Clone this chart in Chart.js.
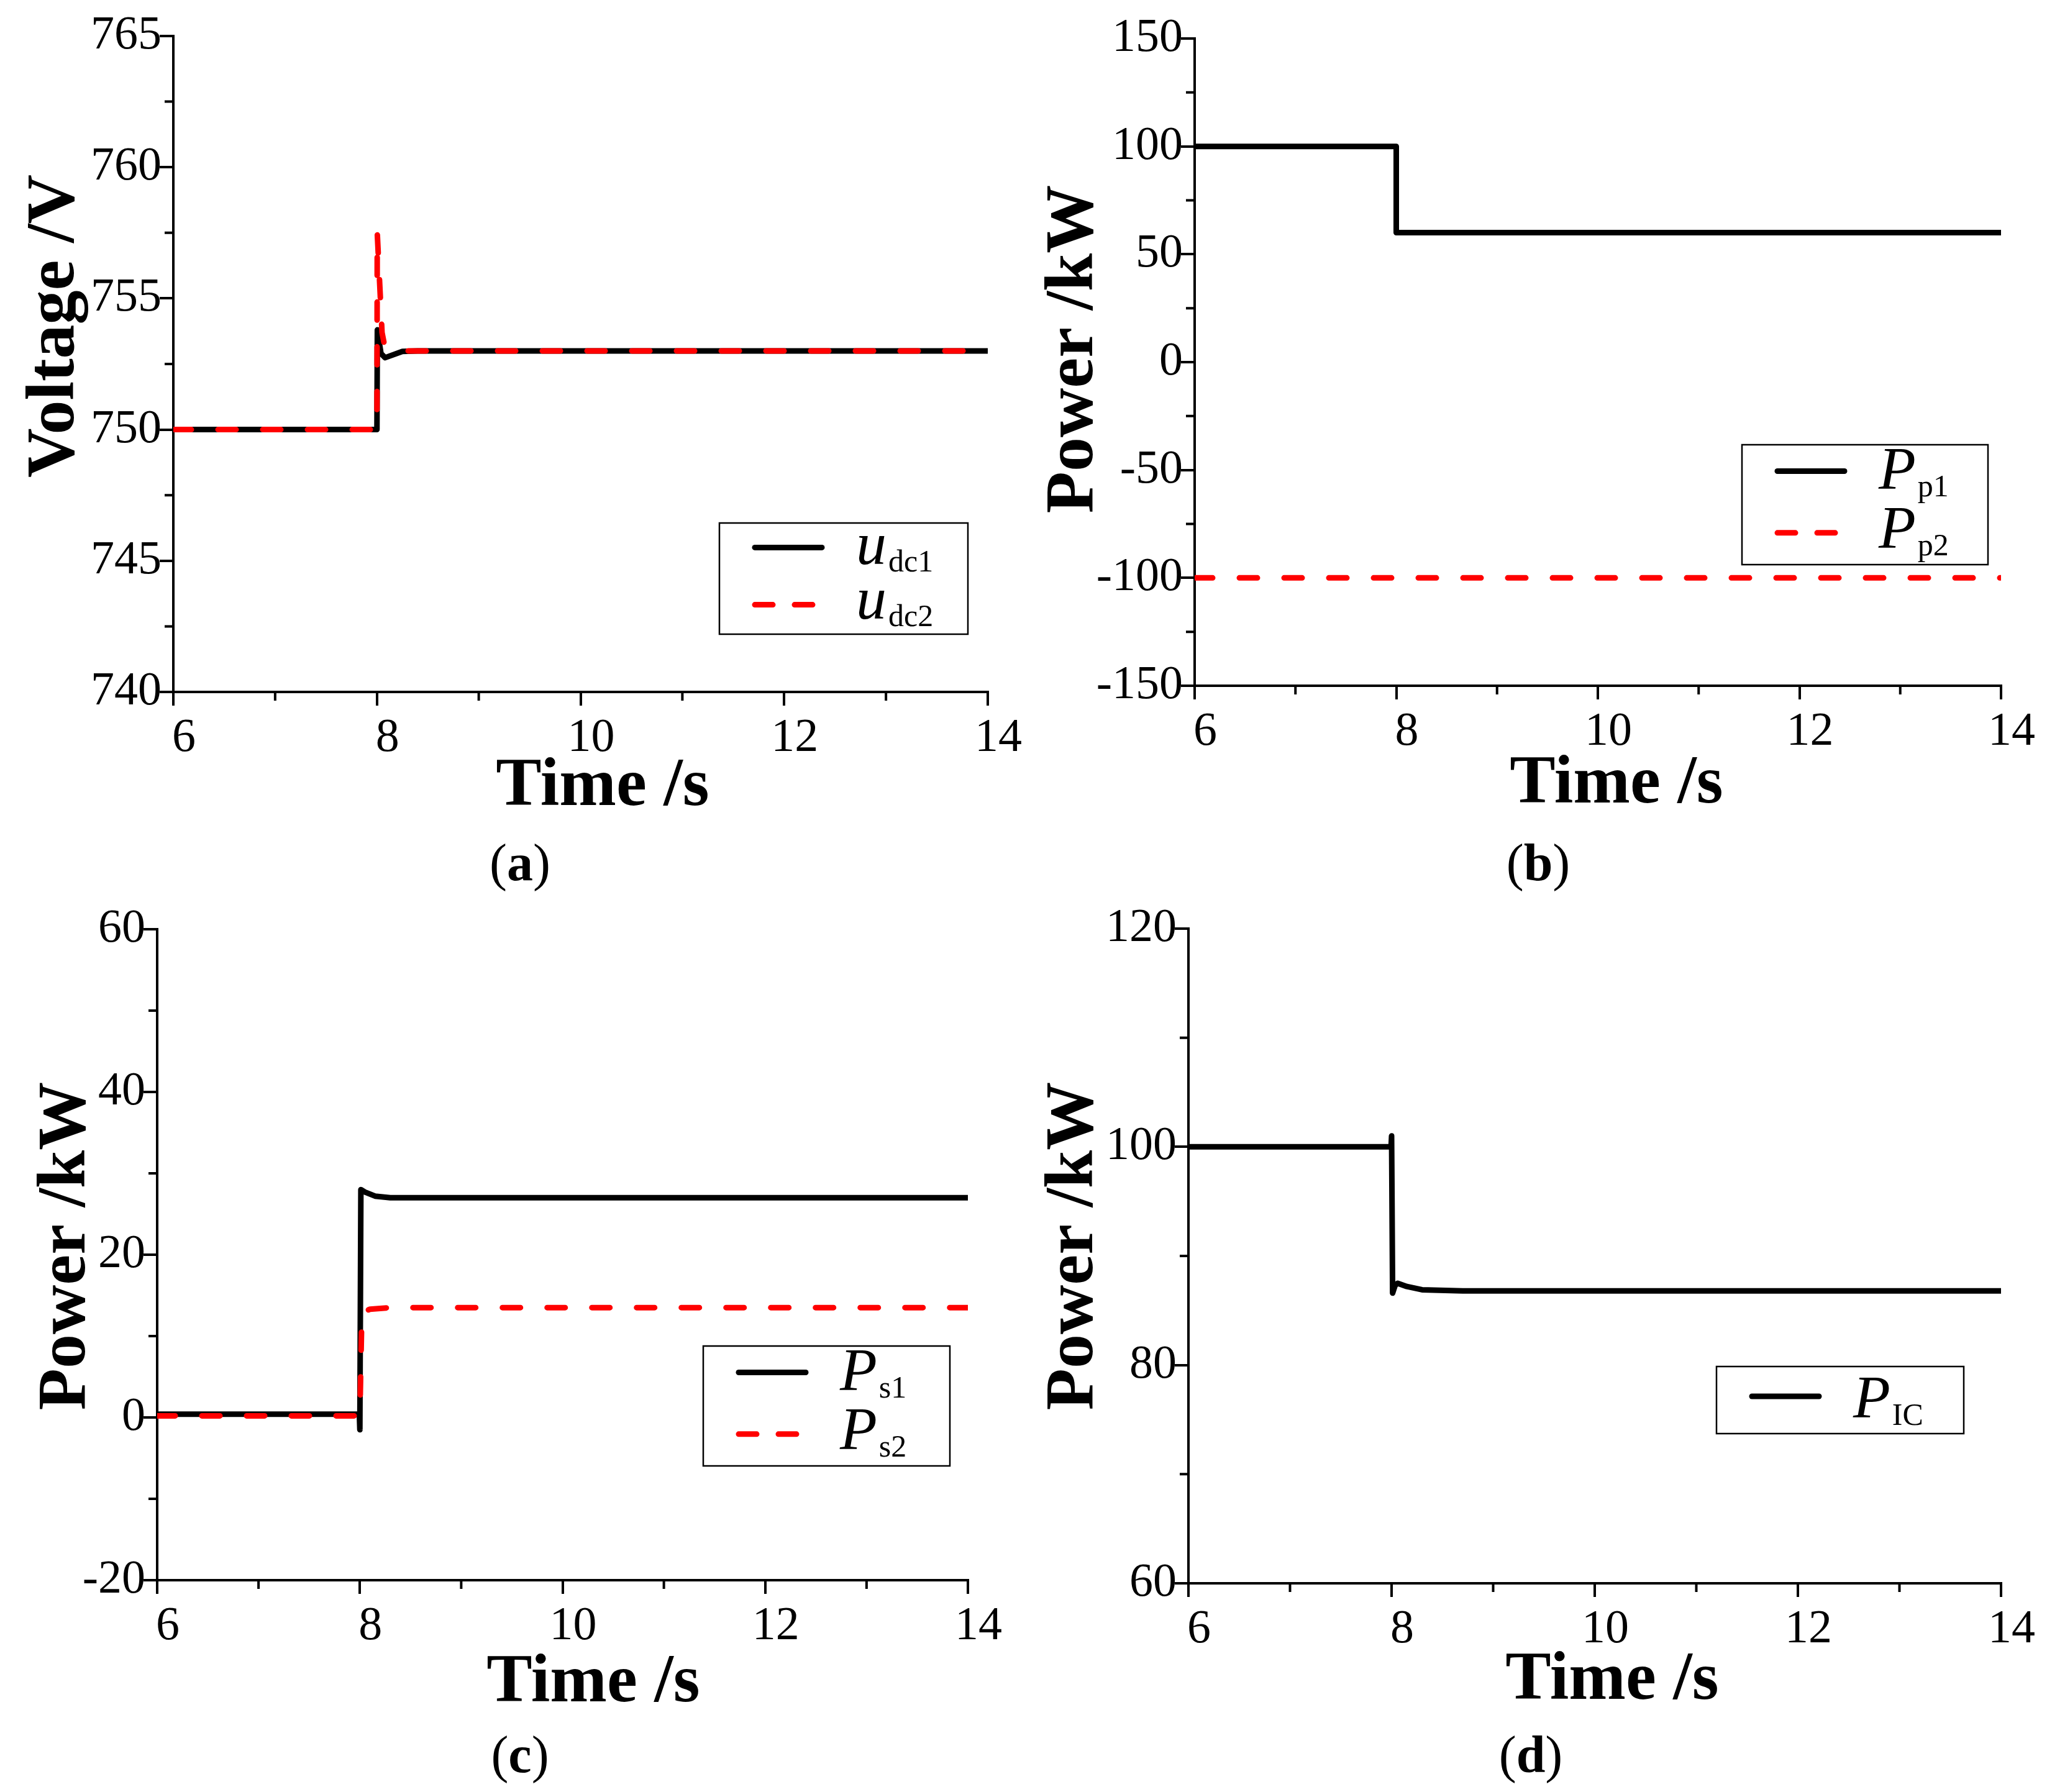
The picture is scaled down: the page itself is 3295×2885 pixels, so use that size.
<!DOCTYPE html>
<html>
<head>
<meta charset="utf-8">
<script src="https://cdn.jsdelivr.net/npm/chart.js@4.4.1/dist/chart.umd.min.js"></script>
<style>
  html, body { margin: 0; padding: 0; background: #fff; }
  #page { position: relative; width: 3295px; height: 2885px; background: #fff; }
  #page canvas { position: absolute; }
</style>
</head>
<body>
<div id="page">
  <canvas id="panel-a"></canvas>
  <canvas id="panel-b"></canvas>
  <canvas id="panel-c"></canvas>
  <canvas id="panel-d"></canvas>
</div>
<script>
// tick values
const timeTicks = [6, 8, 10, 12, 14];
const timeMinorTicks = [7, 9, 11, 13];
const voltageTicks = [740, 745, 750, 755, 760, 765];
const voltageMinorTicks = [742.5, 747.5, 752.5, 757.5, 762.5];
const powerPTicks = [-150, -100, -50, 0, 50, 100, 150];
const powerPMinorTicks = [-125, -75, -25, 25, 75, 125];
const powerSTicks = [-20, 0, 20, 40, 60];
const powerSMinorTicks = [-10, 10, 30, 50];
const powerICTicks = [60, 80, 100, 120];
const powerICMinorTicks = [70, 90, 110];

// (a) DC voltages
const udc1Time  = [6, 8.0, 8.004, 8.04, 8.08, 8.25, 8.4, 14];
const udc1Value = [750, 750, 753.8, 752.9, 752.74, 752.98, 753.0, 753.0];
const udc2Time  = [6, 8.0, 8.003, 8.05, 8.07, 8.24, 14];
const udc2Value = [750, 750, 757.5, 753.7, 753.3, 753.0, 753.0];

// (b) primary power
const pp1Time  = [6, 8, 8, 14];
const pp1Value = [100, 100, 60, 60];
const pp2Time  = [6, 14];
const pp2Value = [-100, -100];

// (c) secondary power
const ps1Time  = [6, 7.995, 8.0, 8.01, 8.05, 8.15, 8.3, 14];
const ps1Value = [0.4, 0.4, -1.5, 28.0, 27.7, 27.2, 27.0, 27.0];
const ps2Time  = [6, 8.0, 8.02, 8.1, 8.3, 14];
const ps2Value = [0.2, 0.2, 12.9, 13.3, 13.5, 13.5];

// (d) interlinking converter power
const picTime  = [6, 7.995, 8.0, 8.01, 8.035, 8.06, 8.15, 8.3, 8.7, 14];
const picValue = [100, 100, 101.0, 86.6, 87.3, 87.5, 87.2, 86.9, 86.8, 86.8];

const BLACK = '#000000';
const RED = '#ff0000';
const SERIF = "'Liberation Serif', 'Times New Roman', serif";
const LINE_W = 9;
const DASH = [29, 43];

Chart.defaults.font.family = SERIF;
Chart.defaults.color = '#000';

function points(ts, vs) {
    return ts.map((t, i) => ({ x: t, y: vs[i] }));
}

function lineSet(label, ts, vs, color, dashed) {
    return {
        label: label,
        data: points(ts, vs),
        borderColor: color,
        borderWidth: LINE_W,
        borderDash: dashed ? DASH : [],
        borderCapStyle: 'round',
        borderJoinStyle: 'round',
        pointRadius: 0,
        tension: 0,
        fill: false
    };
}

const extras = {};

/** draws minor ticks, legend box, axis titles and the (x) tag */
const figureExtras = {
    id: 'figureExtras',
    afterDraw(chart) {
        const spec = extras[chart.canvas.id];
        if (!spec) return;
        const ctx = chart.ctx;
        const [ox, oy] = spec.origin;
        const xs = chart.scales.x, ys = chart.scales.y;
        const area = chart.chartArea;

        ctx.save();
        ctx.strokeStyle = BLACK;
        ctx.lineWidth = 4;
        ctx.beginPath();
        timeMinorTicks.forEach(v => {
            const px = xs.getPixelForValue(v);
            ctx.moveTo(px, area.bottom + 2);
            ctx.lineTo(px, area.bottom + 14);
        });
        spec.yMinor.forEach(v => {
            const py = ys.getPixelForValue(v);
            ctx.moveTo(area.left - 2, py);
            ctx.lineTo(area.left - 14, py);
        });
        ctx.stroke();

        // legend
        const lg = spec.legend;
        const L = lg.box[0] - ox, T = lg.box[1] - oy, R = lg.box[2] - ox, B = lg.box[3] - oy;
        const H = B - T;
        ctx.lineWidth = 2.5;
        ctx.strokeRect(L, T, R - L, H);
        const n = lg.items.length;
        lg.items.forEach((item, i) => {
            const lineY = n === 1 ? T + 0.444 * H : T + (i === 0 ? 0.22 : 0.735) * H;
            const baseY = n === 1 ? T + 0.76 * H : T + (i === 0 ? 0.37 : 0.86) * H;
            ctx.save();
            ctx.strokeStyle = item.color;
            ctx.lineWidth = LINE_W;
            ctx.lineCap = 'round';
            ctx.setLineDash(item.dashed ? [29, 35] : []);
            ctx.beginPath();
            ctx.moveTo(L + 57, lineY);
            ctx.lineTo(L + 165, lineY);
            ctx.stroke();
            ctx.restore();

            ctx.fillStyle = BLACK;
            ctx.textAlign = 'left';
            ctx.textBaseline = 'alphabetic';
            ctx.font = 'italic 98px ' + SERIF;
            ctx.fillText(item.main, L + 220, baseY);
            const w = ctx.measureText(item.main).width;
            ctx.font = '50px ' + SERIF;
            ctx.fillText(item.sub, L + 220 + w + 3, baseY + 12);
        });

        // axis titles
        ctx.fillStyle = BLACK;
        ctx.font = 'bold 110px ' + SERIF;
        ctx.textAlign = 'center';
        ctx.textBaseline = 'alphabetic';
        ctx.fillText(spec.xTitle.text, spec.xTitle.x - ox, spec.xTitle.y - oy);
        ctx.save();
        ctx.translate(spec.yTitle.x - ox, spec.yTitle.y - oy);
        ctx.rotate(-Math.PI / 2);
        ctx.fillText(spec.yTitle.text, 0, 0);
        ctx.restore();

        // panel tag like (a)
        const tag = spec.tag;
        ctx.textAlign = 'left';
        ctx.font = '84px ' + SERIF;
        const wp1 = ctx.measureText('(').width;
        const wp2 = ctx.measureText(')').width;
        ctx.font = 'bold 84px ' + SERIF;
        const wl = ctx.measureText(tag.letter).width;
        let x = tag.x - ox - (wp1 + wl + wp2) / 2;
        const y = tag.y - oy;
        ctx.font = '84px ' + SERIF;
        ctx.fillText('(', x, y);
        x += wp1;
        ctx.font = 'bold 84px ' + SERIF;
        ctx.fillText(tag.letter, x, y);
        x += wl;
        ctx.font = '84px ' + SERIF;
        ctx.fillText(')', x, y);
        ctx.restore();
    }
};

function makePanel(id, spec) {
    const canvas = document.getElementById(id);
    const [ox, oy] = spec.origin;
    const [w, h] = spec.size;
    const [L, T, R, B] = spec.area;
    canvas.width = w;
    canvas.height = h;
    canvas.style.left = ox + 'px';
    canvas.style.top = oy + 'px';
    canvas.style.width = w + 'px';
    canvas.style.height = h + 'px';
    extras[id] = spec;

    const axisGrid = {
        drawOnChartArea: false, drawTicks: true, tickLength: 22,
        tickWidth: 4, tickColor: BLACK, lineWidth: 4, color: BLACK
    };
    const axisBorder = { display: true, color: BLACK, width: 4 };

    return new Chart(canvas, {
        type: 'line',
        data: { datasets: spec.datasets },
        options: {
            responsive: false,
            animation: false,
            devicePixelRatio: 1,
            layout: { padding: { left: 0, top: T - oy, right: ox + w - R, bottom: 0 } },
            plugins: {
                legend: { display: false },
                tooltip: { enabled: false },
                title: { display: false }
            },
            scales: {
                x: {
                    type: 'linear',
                    min: timeTicks[0],
                    max: timeTicks[timeTicks.length - 1],
                    afterBuildTicks: s => { s.ticks = timeTicks.map(v => ({ value: v })); },
                    afterFit: s => { s.height = oy + h - B; },
                    ticks: {
                        autoSkip: false, maxRotation: 0, minRotation: 0,
                        padding: 7, labelOffset: 17, color: BLACK,
                        font: { size: 76 },
                        callback: v => String(v)
                    },
                    grid: axisGrid,
                    border: axisBorder
                },
                y: {
                    type: 'linear',
                    min: spec.yTicks[0],
                    max: spec.yTicks[spec.yTicks.length - 1],
                    afterBuildTicks: s => { s.ticks = spec.yTicks.map(v => ({ value: v })); },
                    afterFit: s => { s.width = L - ox; },
                    ticks: {
                        autoSkip: false, padding: -3, color: BLACK,
                        font: { size: 76 },
                        callback: v => String(v)
                    },
                    grid: axisGrid,
                    border: axisBorder
                }
            }
        },
        plugins: [figureExtras]
    });
}

makePanel('panel-a', {
    origin: [0, 0], size: [1647, 1442], area: [279, 58, 1590, 1114],
    yTicks: voltageTicks, yMinor: voltageMinorTicks,
    datasets: [
        lineSet('udc2', udc2Time, udc2Value, RED, true),
        lineSet('udc1', udc1Time, udc1Value, BLACK, false)
    ],
    legend: {
        box: [1158, 842, 1558, 1021],
        items: [
            { main: 'u', sub: 'dc1', color: BLACK, dashed: false },
            { main: 'u', sub: 'dc2', color: RED, dashed: true }
        ]
    },
    yTitle: { text: 'Voltage /V', x: 118, y: 525 },
    xTitle: { text: 'Time /s', x: 970, y: 1296 },
    tag: { letter: 'a', x: 837, y: 1417 }
});

makePanel('panel-b', {
    origin: [1648, 0], size: [1647, 1442], area: [1923, 62, 3221, 1104],
    yTicks: powerPTicks, yMinor: powerPMinorTicks,
    datasets: [
        lineSet('Pp2', pp2Time, pp2Value, RED, true),
        lineSet('Pp1', pp1Time, pp1Value, BLACK, false)
    ],
    legend: {
        box: [2804, 716, 3200, 909],
        items: [
            { main: 'P', sub: 'p1', color: BLACK, dashed: false },
            { main: 'P', sub: 'p2', color: RED, dashed: true }
        ]
    },
    yTitle: { text: 'Power /kW', x: 1758, y: 562 },
    xTitle: { text: 'Time /s', x: 2602, y: 1292 },
    tag: { letter: 'b', x: 2476, y: 1417 }
});

makePanel('panel-c', {
    origin: [0, 1442], size: [1647, 1443], area: [253, 1496, 1558, 2544],
    yTicks: powerSTicks, yMinor: powerSMinorTicks,
    datasets: [
        lineSet('Ps2', ps2Time, ps2Value, RED, true),
        lineSet('Ps1', ps1Time, ps1Value, BLACK, false)
    ],
    legend: {
        box: [1132, 2167, 1529, 2360],
        items: [
            { main: 'P', sub: 's1', color: BLACK, dashed: false },
            { main: 'P', sub: 's2', color: RED, dashed: true }
        ]
    },
    yTitle: { text: 'Power /kW', x: 136, y: 2006 },
    xTitle: { text: 'Time /s', x: 955, y: 2739 },
    tag: { letter: 'c', x: 837, y: 2853 }
});

makePanel('panel-d', {
    origin: [1648, 1442], size: [1647, 1443], area: [1913, 1495, 3221, 2549],
    yTicks: powerICTicks, yMinor: powerICMinorTicks,
    datasets: [
        lineSet('PIC', picTime, picValue, BLACK, false)
    ],
    legend: {
        box: [2763, 2200, 3161, 2308],
        items: [
            { main: 'P', sub: 'IC', color: BLACK, dashed: false }
        ]
    },
    yTitle: { text: 'Power /kW', x: 1758, y: 2006 },
    xTitle: { text: 'Time /s', x: 2595, y: 2735 },
    tag: { letter: 'd', x: 2464, y: 2853 }
});
</script>
</body>
</html>
